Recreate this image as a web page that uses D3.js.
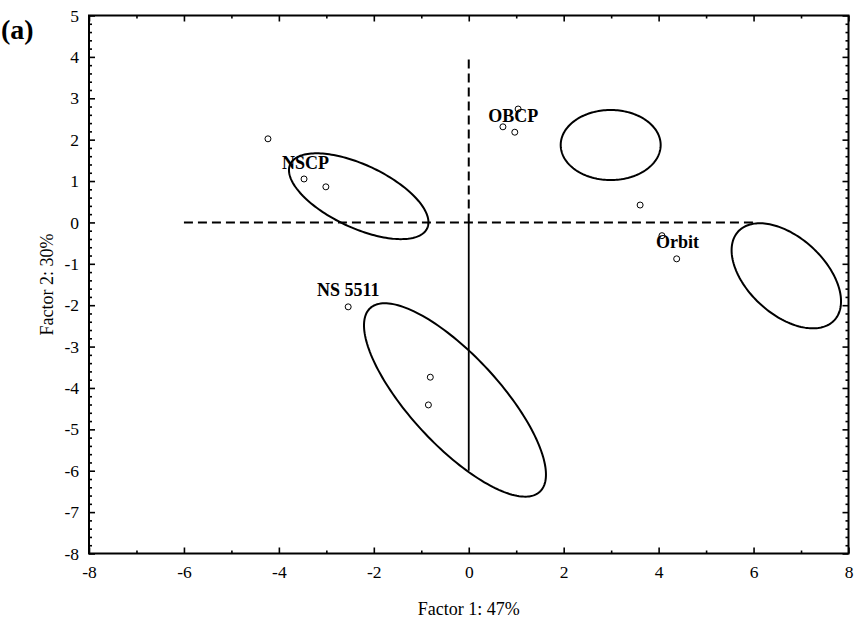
<!DOCTYPE html>
<html>
<head>
<meta charset="utf-8">
<script src="https://cdn.jsdelivr.net/npm/d3@7"></script>
<style>
  html, body { margin: 0; padding: 0; background: #fff; }
  svg { display: block; }
  text { font-family: "Liberation Serif", "Times New Roman", serif; fill: #000; }
</style>
</head>
<body>
<svg id="chart" width="858" height="626"></svg>
<script>
// ---- data ----
const xTicks = [-8, -6, -4, -2, 0, 2, 4, 6, 8];
const yTicks = [5, 4, 3, 2, 1, 0, -1, -2, -3, -4, -5, -6, -7, -8];
const xTitle = "Factor 1: 47%";
const yTitle = "Factor 2: 30%";
const panelLabel = "(a)";

// sample scores [factor1, factor2]
const pointsX = [-4.23, -3.47, -3.01, 0.72, 1.04, 0.97, 3.61, 4.07, 4.38, -2.54, -0.81, -0.85];
const pointsY = [ 2.02,  1.05,  0.86, 2.31, 2.74, 2.18, 0.42, -0.32, -0.88, -2.04, -3.74, -4.41];

// group labels and their anchor positions (data units)
const labelNames = ["NSCP", "OBCP", "Orbit", "NS 5511"];
const labelX = [-3.44, 0.94, 4.40, -2.54];
const labelY = [ 1.29, 2.43, -0.63, -1.77];

// confidence ellipses: centre + two conjugate semi-axis vectors (data units)
const ellCx = [-2.318, 2.99, 6.69, -0.290];
const ellCy = [ 0.633, 1.87, -1.29, -4.29];
const ellUx = [ 1.442, 1.053, 1.014, 1.787];
const ellUy = [-0.775, 0.000, -1.070, -2.218];
const ellVx = [-0.281, 0.000, -0.548, -0.693];
const ellVy = [-0.689, 0.846, -0.683, -0.735];

// reference lines (data units)
const dashedH = [[-6, 0], [6, 0]];
const dashedV = [[0, 0], [0, 4]];
const solidV  = [[0, 0], [0, -6]];

// ---- layout ----
const svg = d3.select("#chart");
const L = 89, R = 848.5, T = 15.5, B = 553.5;
const x = d3.scaleLinear().domain([-8, 8]).range([L, R]);
const y = d3.scaleLinear().domain([-8, 5]).range([B, T]);
const fmt = d => String(d);

const g = svg.append("g");

// axes
const xMinor = d3.range(-7, 8, 2);
const yMinor = d3.range(-8, 5.0001, 0.2).filter(v => Math.abs(v - Math.round(v)) > 1e-6);

function styleAxis(sel) {
  sel.select(".domain").remove();
  sel.selectAll("line").attr("stroke", "#000").attr("stroke-width", 1.6);
  sel.selectAll("text").attr("font-size", 17.5).style("font-family", '"Liberation Serif","Times New Roman",serif');
}

g.append("g").attr("transform", `translate(0,${B})`)
  .call(d3.axisBottom(x).tickValues(xTicks).tickSize(-6).tickPadding(12).tickFormat(fmt))
  .call(styleAxis);
g.append("g").attr("transform", `translate(0,${B})`)
  .call(d3.axisBottom(x).tickValues(xMinor).tickSize(-3).tickFormat(""))
  .call(styleAxis);
g.append("g").attr("transform", `translate(0,${T})`)
  .call(d3.axisTop(x).tickValues(xTicks).tickSize(-6).tickFormat(""))
  .call(styleAxis);
g.append("g").attr("transform", `translate(0,${T})`)
  .call(d3.axisTop(x).tickValues(xMinor).tickSize(-3).tickFormat(""))
  .call(styleAxis);

g.append("g").attr("transform", `translate(${L},0)`)
  .call(d3.axisLeft(y).tickValues(yTicks).tickSize(-6).tickPadding(10).tickFormat(fmt))
  .call(styleAxis);
g.append("g").attr("transform", `translate(${L},0)`)
  .call(d3.axisLeft(y).tickValues(yMinor).tickSize(-3).tickFormat(""))
  .call(styleAxis);
g.append("g").attr("transform", `translate(${R},0)`)
  .call(d3.axisRight(y).tickValues(yTicks).tickSize(-6).tickFormat(""))
  .call(styleAxis);
g.append("g").attr("transform", `translate(${R},0)`)
  .call(d3.axisRight(y).tickValues(yMinor).tickSize(-3).tickFormat(""))
  .call(styleAxis);

// frame
g.append("rect").attr("x", L).attr("y", T).attr("width", R - L).attr("height", B - T)
  .attr("fill", "none").attr("stroke", "#000").attr("stroke-width", 2);

// reference lines
const line = d3.line().x(d => x(d[0])).y(d => y(d[1]));
g.append("path").attr("d", line(dashedH)).attr("fill", "none").attr("stroke", "#000")
  .attr("stroke-width", 2).attr("stroke-dasharray", "9,5");
g.append("path").attr("d", line(dashedV)).attr("fill", "none").attr("stroke", "#000")
  .attr("stroke-width", 2).attr("stroke-dasharray", "9,5");
g.append("path").attr("d", line(solidV)).attr("fill", "none").attr("stroke", "#000")
  .attr("stroke-width", 1.8);

// ellipses
const ts = d3.range(0, 2 * Math.PI, Math.PI / 90);
ellCx.forEach((cx, i) => {
  const pts = ts.map(t => [
    cx + ellUx[i] * Math.cos(t) + ellVx[i] * Math.sin(t),
    ellCy[i] + ellUy[i] * Math.cos(t) + ellVy[i] * Math.sin(t)
  ]);
  g.append("path")
    .attr("d", d3.line().x(d => x(d[0])).y(d => y(d[1])).curve(d3.curveLinearClosed)(pts))
    .attr("fill", "none").attr("stroke", "#000").attr("stroke-width", 2);
});

// points
g.selectAll("circle.pt").data(pointsX.map((v, i) => [v, pointsY[i]])).enter()
  .append("circle").attr("class", "pt")
  .attr("cx", d => x(d[0])).attr("cy", d => y(d[1])).attr("r", 3)
  .attr("fill", "#fff").attr("stroke", "#000").attr("stroke-width", 1);

// group labels
g.selectAll("text.lab").data(labelNames).enter()
  .append("text").attr("class", "lab")
  .attr("x", (d, i) => x(labelX[i])).attr("y", (d, i) => y(labelY[i]))
  .attr("text-anchor", "middle").attr("font-size", 18).attr("font-weight", "bold")
  .text(d => d);

// axis titles
svg.append("text").attr("x", (L + R) / 2).attr("y", 615)
  .attr("text-anchor", "middle").attr("font-size", 18).text(xTitle);
svg.append("text").attr("transform", `translate(53,${(T + B) / 2}) rotate(-90)`)
  .attr("text-anchor", "middle").attr("font-size", 18).text(yTitle);

// panel label
svg.append("text").attr("x", 1).attr("y", 39).attr("font-size", 28)
  .attr("font-weight", "bold").text(panelLabel);
</script>
</body>
</html>
